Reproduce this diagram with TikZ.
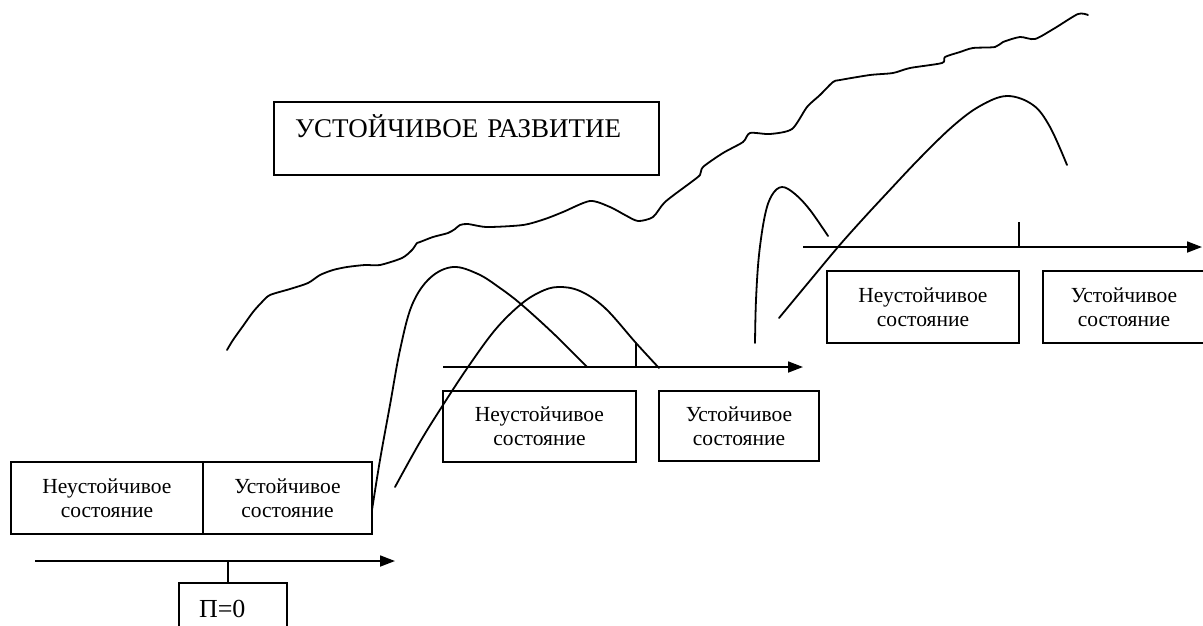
\documentclass[tikz,border=0pt]{standalone}
\usepackage{fontspec}
\setmainfont{Liberation Serif}
\usetikzlibrary{arrows.meta}
\begin{document}
\begin{tikzpicture}[x=1pt,y=-1pt,line width=1.8pt,
  statebox/.style={draw,rectangle,inner sep=0pt,align=center,
    font=\fontsize{21.5}{24}\selectfont},
  axisline/.style={-{Triangle[length=15pt,width=11pt]}},
  curve/.style={line join=round,line cap=round}]
\useasboundingbox (0,0) rectangle (1203,625);

% heading box
\node[draw,rectangle,minimum width=385pt,minimum height=73pt,
  text width=343pt,inner xsep=21pt,inner ysep=0pt,align=left,
  text height=18pt,text depth=21pt,
  font=\fontsize{27}{31}\selectfont] (title) at (466.5,138.5)
  {УСТОЙЧИВОЕ РАЗВИТИЕ};

% first stage
\node[statebox,minimum width=192pt,minimum height=72pt] (n1) at (107,498)
  {Неустойчивое\\состояние};
\node[statebox,minimum width=169pt,minimum height=72pt] (s1) at (287.5,498)
  {Устойчивое\\состояние};
\coordinate (a1s) at (35,561);
\coordinate (a1e) at (395,561);
\draw[axisline] (a1s) -- (a1e);
\node[draw,rectangle,minimum width=108pt,minimum height=52pt,
  text width=68pt,inner xsep=20pt,inner ysep=0pt,align=left,
  font=\fontsize{26}{30}\selectfont] (p0) at (233,609) {П=0};
\coordinate (t1) at (228,561);
\draw (t1) -- (t1 |- p0.north);

% second stage
\node[statebox,minimum width=193pt,minimum height=71pt] (n2) at (539.5,426.5)
  {Неустойчивое\\состояние};
\node[statebox,minimum width=160pt,minimum height=70pt] (s2) at (739,426)
  {Устойчивое\\состояние};
\coordinate (a2s) at (443,367);
\coordinate (a2e) at (803,367);
\draw[axisline] (a2s) -- (a2e);
\coordinate (t2a) at (636,343);
\coordinate (t2b) at (636,367);
\draw (t2a) -- (t2b);

% third stage
\node[statebox,minimum width=192pt,minimum height=72pt] (n3) at (923,307)
  {Неустойчивое\\состояние};
\node[statebox,minimum width=162pt,minimum height=72pt] (s3) at (1124,307)
  {Устойчивое\\состояние};
\coordinate (a3s) at (803,247);
\coordinate (a3e) at (1202,247);
\draw[axisline] (a3s) -- (a3e);
\coordinate (t3a) at (1019,222);
\coordinate (t3b) at (1019,247);
\draw (t3a) -- (t3b);

% transition humps
\draw[curve] plot[smooth,tension=0.6] coordinates {(372,510) (380,460)
  (390,405) (400,350) (412,305) (430,278) (453,267) (478,274) (500,288)
  (522,305) (555,335) (587,367)};
\draw[curve] plot[smooth,tension=0.6] coordinates {(395,487) (420,442)
  (443,405) (468,367) (495,330) (520,305) (540,292) (558,287) (580,291)
  (605,308) (636,343) (659,368)};
\draw[curve] plot[smooth,tension=0.6] coordinates {(755,343) (756,300)
  (759,255) (765,215) (772,195) (782,187) (795,194) (810,210) (828,236)};
\draw[curve] plot[smooth,tension=0.6] coordinates {(779,318) (808,283)
  (838,247) (862,220) (887,193) (920,158) (953,126) (980,106) (1007,96)
  (1033,105) (1050,127) (1067,165)};

% development trend line
\draw[curve] plot[smooth,tension=0.45] coordinates {(227,350) (233,340)
  (243,326) (253,312) (262,302) (270,295) (290,289) (308,283) (320,275)
  (333,270) (347,267) (365,265) (380,265) (402,258) (412,250) (417,243)
  (420,242) (433,237) (448,233) (455,229) (460,225) (468,224) (487,227)
  (523,225) (545,219) (563,212) (590,201) (610,207) (625,215) (638,221)
  (653,217) (665,202) (690,183) (700,175) (703,167) (723,153) (743,142)
  (750,133) (770,134) (792,129) (807,107) (820,95) (833,82) (840,80)
  (870,75) (893,73) (910,68) (942,63) (945,57) (960,52) (973,48) (995,47)
  (1003,42) (1020,37) (1035,39) (1055,28) (1078,14) (1088,15)};
\end{tikzpicture}
\end{document}
